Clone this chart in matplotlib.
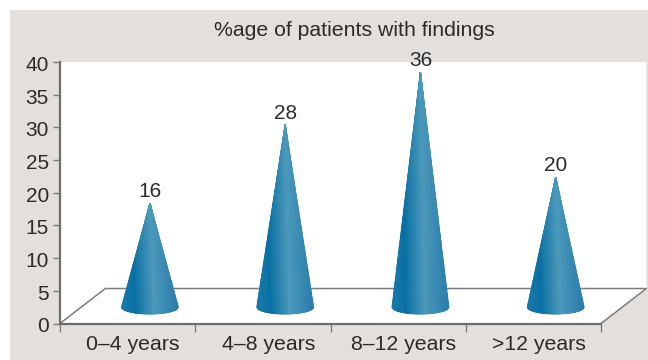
import numpy as np
import matplotlib
matplotlib.use('Agg')
import matplotlib.pyplot as plt
from matplotlib.colors import LinearSegmentedColormap
from matplotlib.patches import Polygon, Rectangle
from matplotlib.transforms import ScaledTranslation

plt.rcParams['font.family'] = ['Liberation Sans', 'DejaVu Sans']

title = '%age of patients with findings'
categories = ['0–4 years', '4–8 years', '8–12 years', '>12 years']
values = [16, 28, 36, 20]
y_ticks = [0, 5, 10, 15, 20, 25, 30, 35, 40]

panel_color = '#e3dfdd'
line_color = '#7d7d7d'
axis_color = '#6e6e6e'
text_color = '#2b2b2b'

fig = plt.figure(figsize=(6.48, 3.6), dpi=100)
fig.patch.set_facecolor('white')
fig.patches.append(Rectangle((10 / 648, 0), 638 / 648, 350 / 360, transform=fig.transFigure,
                             facecolor=panel_color, edgecolor='none', zorder=-1))

ax = fig.add_axes([60 / 648, 36.5 / 360, 541 / 648, 261.5 / 360])
ax.patch.set_alpha(0)
ax.set_xlim(0, 4)
ax.set_ylim(0, 40)

# white back wall + floor, the floor sticks out past the axes on the right
depth_x = 0.335
depth_y = 5.35
ax.add_patch(Polygon([(0, 0), (0, 40), (4 + depth_x, 40), (4 + depth_x, depth_y), (4, 0)],
                     facecolor='white', edgecolor='none', clip_on=False, zorder=0))
ax.plot([0, depth_x, 4 + depth_x, 4], [0, depth_y, depth_y, 0], color=line_color, lw=1.1,
        clip_on=False, zorder=1)

# cones, the gradient fades to the light tone towards the tip
cone_cmap = LinearSegmentedColormap.from_list('cone', [(0, '#1a7bab'), (0.25, '#0a70a3'),
                                                       (0.58, '#4c9abb'), (1, '#2a7dab')])
half_w = 0.21
base_y = 2.5
ellipse_h = 1.05
t = np.linspace(-1, 1, 81)
s = np.linspace(0, 1, 40)
T, S = np.meshgrid(t, s)
shade = (T + 1) / 2 * (1 - S) + 0.58 * S
for i, val in enumerate(values):
    cx = i + 0.665
    tip = val + 2.4
    X = cx + T * half_w * (1 - S)
    bottom = base_y - ellipse_h * np.sqrt(1 - T ** 2)
    Y = bottom + S * (tip - bottom)
    ax.pcolormesh(X, Y, shade, cmap=cone_cmap, vmin=0, vmax=1, shading='gouraud', zorder=3)
    ax.annotate(str(val), (cx, tip), xytext=(0, 1.5), textcoords='offset points', ha='center',
                va='bottom', fontsize=15, color=text_color, zorder=4, annotation_clip=False)

for side in ['top', 'right']:
    ax.spines[side].set_visible(False)
for side in ['left', 'bottom']:
    ax.spines[side].set_color(axis_color)
    ax.spines[side].set_linewidth(1.6)
    ax.spines[side].set_zorder(5)

ax.set_yticks(y_ticks)
ax.tick_params(axis='y', length=5, width=1, color=line_color, pad=3, labelsize=15, labelcolor=text_color)
# labels sit a bit under their ticks in the original
for lab in ax.get_yticklabels():
    lab.set_transform(lab.get_transform() + ScaledTranslation(0, -1.5 / 100, fig.dpi_scale_trans))
ax.set_xticks(range(5))
ax.set_xticklabels([])
ax.set_xticks([i + 0.54 for i in range(4)], minor=True)
ax.set_xticklabels(categories, minor=True)
ax.tick_params(axis='x', which='major', length=6, width=1, color=line_color)
ax.tick_params(axis='x', which='minor', length=0, pad=8, labelsize=15.3, labelcolor=text_color)

fig.text(354 / 648, 1 - 31 / 360, title, ha='center', va='center', fontsize=15.3, color=text_color)

fig.savefig('out.png', dpi=100)
